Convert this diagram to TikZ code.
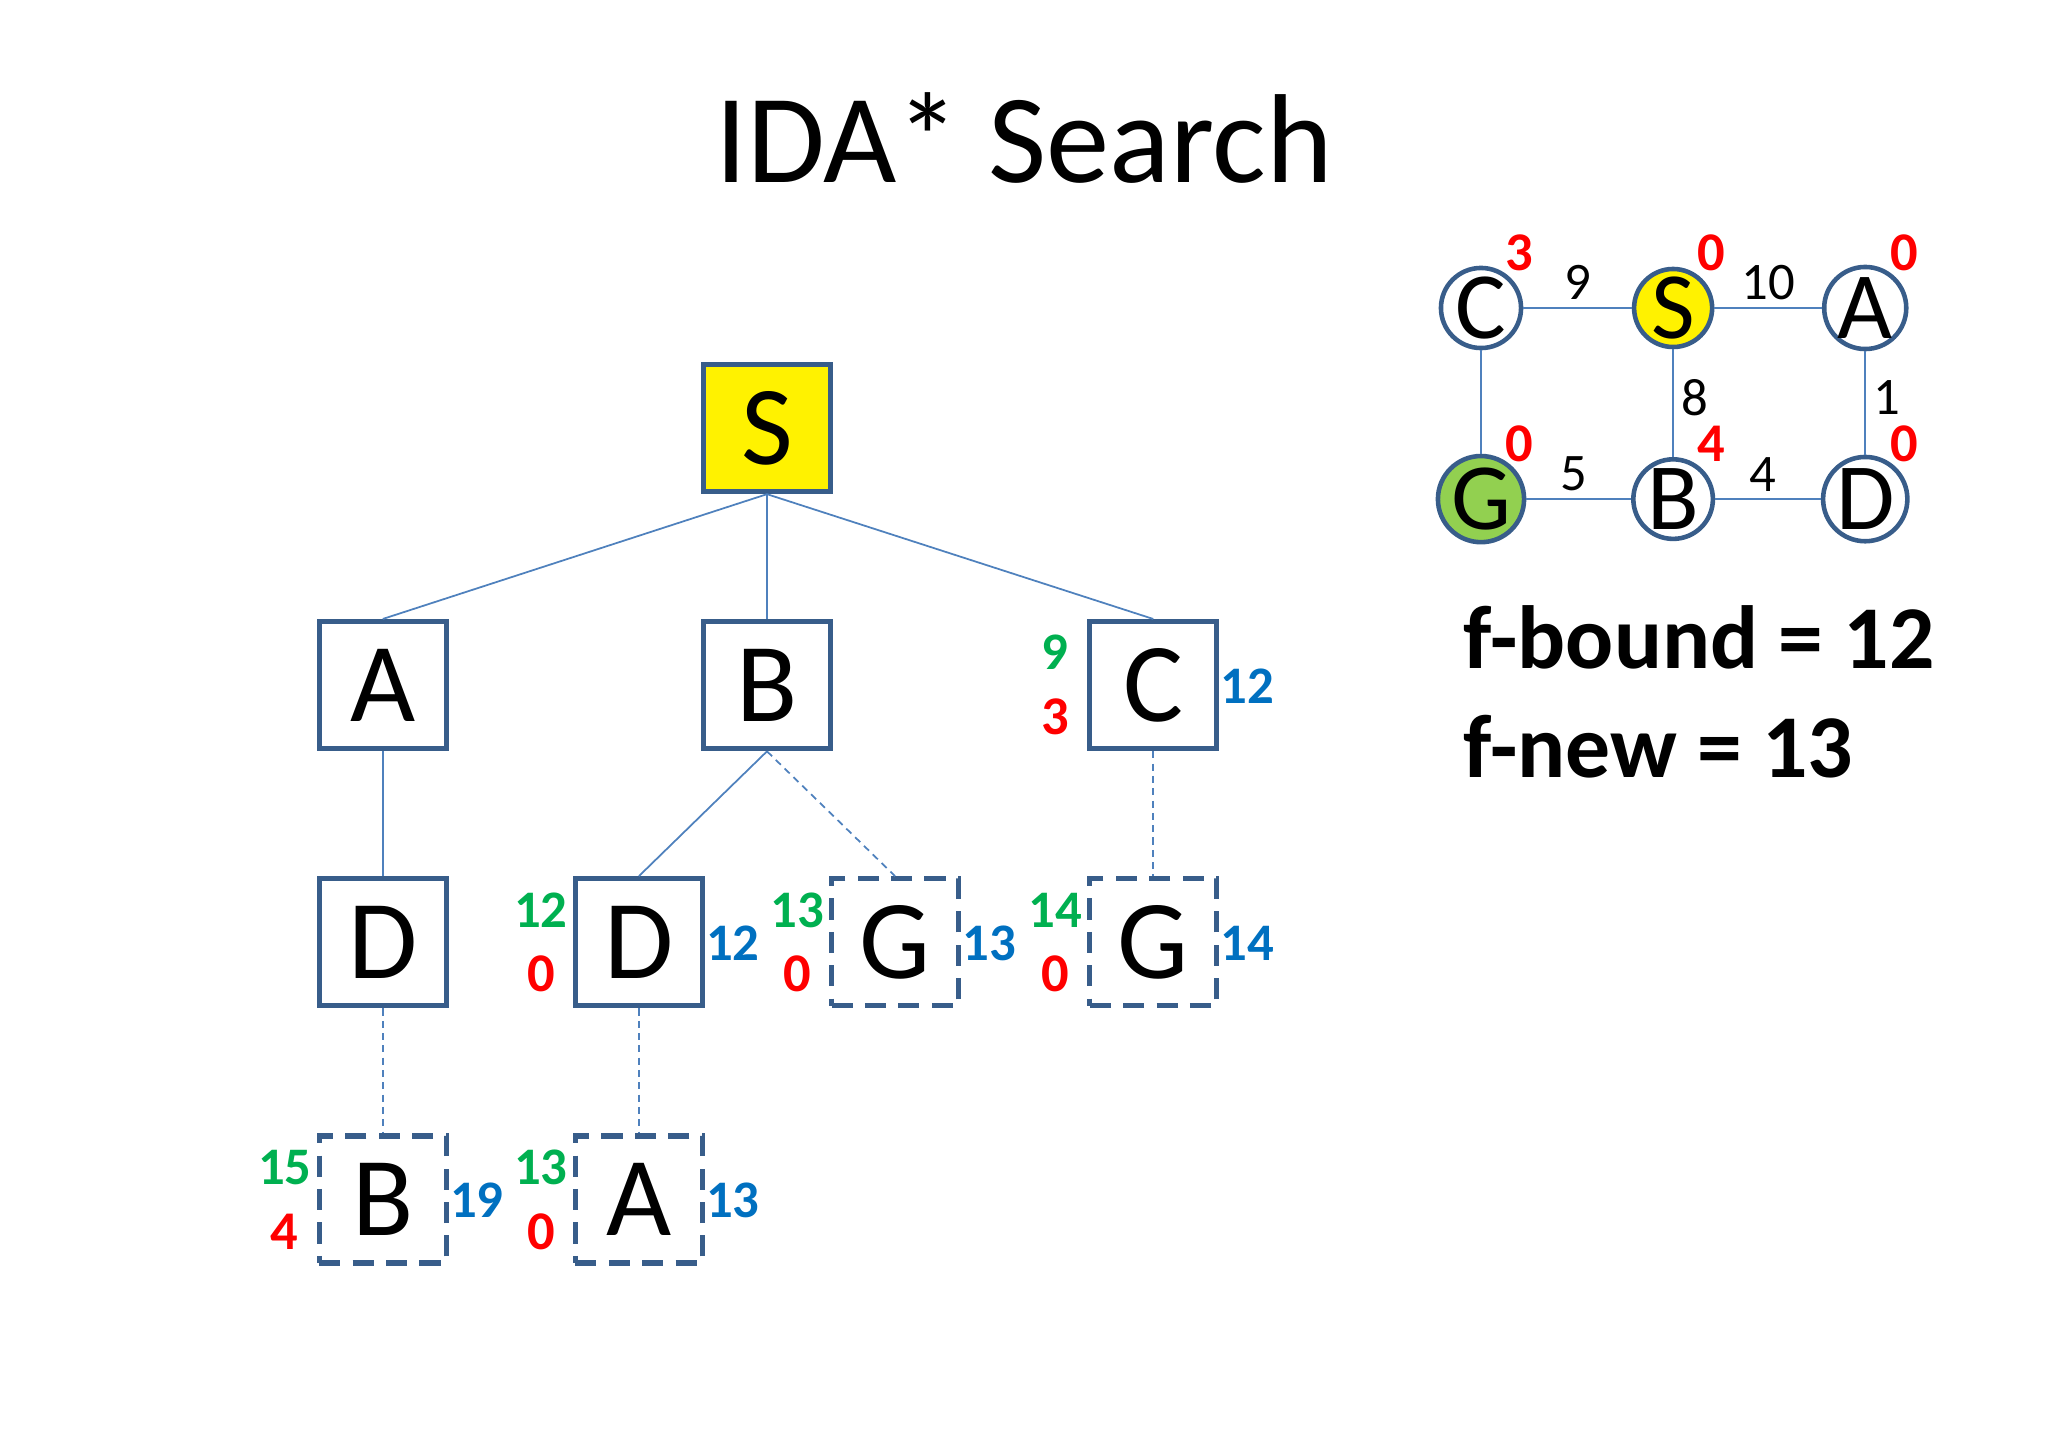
\documentclass[tikz,border=0pt]{standalone}
\usepackage{fontspec}
\setmainfont{Carlito}
\usetikzlibrary{positioning}

\definecolor{boxblue}{HTML}{385D8A}
\definecolor{lineblue}{HTML}{4F81BD}
\definecolor{fgreen}{HTML}{00B050}
\definecolor{hred}{HTML}{FF0000}
\definecolor{fblue}{HTML}{0070C0}
\definecolor{goalgreen}{HTML}{92D050}

\begin{document}
\begin{tikzpicture}[
    x=0.01cm, y=-0.01cm,
    node distance=2.57cm and 2.56cm, on grid,
    tbox/.style={rectangle, draw=boxblue, line width=1.5pt, minimum size=1.27cm, inner sep=0pt, font=\fontsize{32}{32}\selectfont},
    pbox/.style={tbox, dash pattern=on 6pt off 3.5pt},
    tedge/.style={draw=lineblue, line width=0.5pt},
    pedge/.style={tedge, dash pattern=on 2pt off 1.5pt},
    gnum/.style={text=fgreen, font=\bfseries\fontsize{15}{15}\selectfont},
    hnum/.style={text=hred, font=\bfseries\fontsize{15.5}{15.5}\selectfont},
    fnum/.style={text=fblue, font=\bfseries\fontsize{15}{15}\selectfont},
    city/.style={circle, draw=boxblue, line width=1.3pt, fill=white, minimum size=0.78cm, inner sep=0pt, font=\fontsize{27}{27}\selectfont},
    cost/.style={font=\fontsize{15}{15}\selectfont, inner sep=2pt},
    bound/.style={anchor=base west, inner sep=0pt, font=\bfseries\fontsize{25.5}{25.5}\selectfont},
]
  \useasboundingbox (0,0) rectangle (2048,1434);

  \node[font=\fontsize{36}{36}\selectfont, anchor=base] (title) at (1024,183) {IDA* Search};

  % search tree
  \node[tbox, fill=yellow] (s) at (767,428) {S};
  \node[tbox, below=of s] (b) {B};
  \node[tbox, left=3.84cm of b] (a) {A};
  \node[tbox, right=3.86cm of b] (c) {C};
  \node[tbox, below=of a] (ad) {D};
  \node[tbox, right=of ad] (bd) {D};
  \node[pbox, right=of bd] (bg) {G};
  \node[pbox, below=of c] (cg) {G};
  \node[pbox, below=of ad] (adb) {B};
  \node[pbox, below=of bd] (bda) {A};

  \draw[tedge] (s.south) -- (a.north);
  \draw[tedge] (s.south) -- (b.north);
  \draw[tedge] (s.south) -- (c.north);
  \draw[tedge] (a.south) -- (ad.north);
  \draw[tedge] (b.south) -- (bd.north);
  \draw[pedge] (b.south) -- (bg.north);
  \draw[pedge] (c.south) -- (cg.north);
  \draw[pedge] (ad.south) -- (adb.north);
  \draw[pedge] (bd.south) -- (bda.north);

  % g, h and f values
  \node[gnum] (cgv) at ([shift={(-98,-33)}]c.center) {9};
  \node[hnum] (chv) at ([shift={(-98,32)}]c.center) {3};
  \node[fnum] (cfv) at ([shift={(94,1)}]c.center) {12};
  \node[gnum] (bdgv) at ([shift={(-98,-32)}]bd.center) {12};
  \node[hnum] (bdhv) at ([shift={(-98,32)}]bd.center) {0};
  \node[fnum] (bdfv) at ([shift={(94,1)}]bd.center) {12};
  \node[gnum] (bggv) at ([shift={(-98,-32)}]bg.center) {13};
  \node[hnum] (bghv) at ([shift={(-98,32)}]bg.center) {0};
  \node[fnum] (bgfv) at ([shift={(94,1)}]bg.center) {13};
  \node[gnum] (cggv) at ([shift={(-98,-32)}]cg.center) {14};
  \node[hnum] (cghv) at ([shift={(-98,32)}]cg.center) {0};
  \node[fnum] (cgfv) at ([shift={(94,1)}]cg.center) {14};
  \node[gnum] (adbgv) at ([shift={(-98,-32)}]adb.center) {15};
  \node[hnum] (adbhv) at ([shift={(-98,32)}]adb.center) {4};
  \node[fnum] (adbfv) at ([shift={(94,1)}]adb.center) {19};
  \node[gnum] (bdagv) at ([shift={(-98,-32)}]bda.center) {13};
  \node[hnum] (bdahv) at ([shift={(-98,32)}]bda.center) {0};
  \node[fnum] (bdafv) at ([shift={(94,1)}]bda.center) {13};

  % state graph
  \begin{scope}[node distance=1.91cm and 1.92cm]
    \node[city] (gC) at (1481,308) {C};
    \node[city, fill=yellow, right=of gC] (gS) {S};
    \node[city, right=of gS] (gA) {A};
    \node[city, fill=goalgreen, below=of gC] (gG) {G};
    \node[city, right=of gG] (gB) {B};
    \node[city, right=of gB] (gD) {D};
  \end{scope}

  \draw[tedge, line width=0.6pt] (gC) -- node[cost, above] {9} (gS);
  \draw[tedge, line width=0.6pt] (gS) -- node[cost, above] {10} (gA);
  \draw[tedge, line width=0.6pt] (gS) -- node[cost, right, pos=0.45] {8} (gB);
  \draw[tedge, line width=0.6pt] (gA) -- node[cost, right, pos=0.45] {1} (gD);
  \draw[tedge, line width=0.6pt] (gC) -- (gG);
  \draw[tedge, line width=0.6pt] (gG) -- node[cost, above, pos=0.45] {5} (gB);
  \draw[tedge, line width=0.6pt] (gB) -- node[cost, above, pos=0.45] {4} (gD);

  \node[hnum] (hC) at ([shift={(38,-55)}]gC.center) {3};
  \node[hnum] (hS) at ([shift={(38,-55)}]gS.center) {0};
  \node[hnum] (hA) at ([shift={(39,-55)}]gA.center) {0};
  \node[hnum] (hG) at ([shift={(38,-55)}]gG.center) {0};
  \node[hnum] (hB) at ([shift={(38,-55)}]gB.center) {4};
  \node[hnum] (hD) at ([shift={(39,-55)}]gD.center) {0};

  \node[bound] (fbound) at (1463,669) {f-bound = 12};
  \node[bound] (fnew) at (1463,778) {f-new = 13};
\end{tikzpicture}
\end{document}
